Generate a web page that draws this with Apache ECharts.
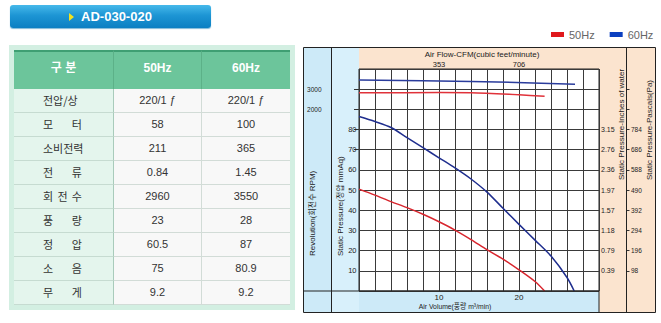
<!DOCTYPE html>
<html><head><meta charset="utf-8">
<script src="https://cdn.jsdelivr.net/npm/echarts@6/dist/echarts.min.js"></script>
<style>
html,body{margin:0;padding:0;background:#fff;width:661px;height:323px;overflow:hidden;font-family:"Liberation Sans",Arial,sans-serif;}
#btn{position:absolute;left:10px;top:5px;width:201px;height:23px;border-radius:3px;background:linear-gradient(#46b9ea,#1d95d4 45%,#0b7fc2);color:#fff;font:bold 13px "Liberation Sans",Arial,sans-serif;line-height:23px;text-align:center;box-shadow:0 1px 1px #7fb9d8;}
#btn .tri{display:inline-block;width:0;height:0;border-left:5px solid #f3e21f;border-top:4px solid transparent;border-bottom:4px solid transparent;margin-right:7px;vertical-align:0px;}
#box{position:absolute;left:9px;top:45px;width:286px;height:265px;background:#d3efe2;}
.c{position:absolute;box-sizing:border-box;text-align:center;white-space:nowrap;}
.h{background:#6cc59b;border-top:2px solid #3f9f73;color:#fff;font:bold 12px "Liberation Sans",Arial,"Noto Sans CJK KR",sans-serif;line-height:33px;}
.hs{border-right:1px solid #5cb188;}
.l{background:#e4f5ed;border-bottom:1px solid #c6dbd1;border-right:1px solid #a9cbbb;color:#333;font:11px "Noto Sans CJK KR",sans-serif;line-height:23px;text-align:left;padding-left:29px;}
.l span{display:inline-block;min-width:39px;text-align:justify;text-align-last:justify;}
.d{background:#f8f8f8;border-bottom:1px solid #d2dcd7;color:#333;font:11px "Liberation Sans",Arial,sans-serif;line-height:23px;}
.ds{border-right:1px solid #d2dcd7;}
#chart{position:absolute;left:296px;top:0;width:365px;height:323px;}
</style></head>
<body>
<div id="btn"><span class="tri"></span>AD-030-020</div>
<div id="box"></div>
<div id="tbl"></div>
<div id="chart"></div>
<script>
// ---- table data ----
const tableHeader = ['구 분', '50Hz', '60Hz'];
const rowLabels = ['전압/상', '모 터', '소비전력', '전 류', '회 전 수', '풍 량', '정 압', '소 음', '무 게'];
const values50 = ['220/1 ƒ', '58', '211', '0.84', '2960', '23', '60.5', '75', '9.2'];
const values60 = ['220/1 ƒ', '100', '365', '1.45', '3550', '28', '87', '80.9', '9.2'];

// ---- chart data ----
const airVolume50 = [0, 2, 4, 6, 8, 10, 12, 14, 16, 18, 20, 22, 23.2];
const pressure50 = [50.5, 47.5, 44.3, 41.3, 38, 34.3, 30.2, 25.5, 20.5, 15.8, 10.5, 4.7, 0];
const airVolume60 = [0, 2, 4, 6, 8, 10, 12, 14, 16, 18, 20, 22, 24, 26, 26.9];
const pressure60 = [86.5, 84, 81, 76, 71, 66, 61, 55.5, 49, 41, 33, 25.2, 17.3, 6.7, 0];
const rpmVolume50 = [0, 10, 14, 20, 23.2];
const rpm50 = [2820, 2830, 2820, 2720, 2650];
const rpmVolume60 = [0, 14, 27];
const rpm60 = [3450, 3385, 3250];
const volumeTicks = [10, 20];
const cfmLabels = ['353', '706'];
const rpmLabelTicks = [2000, 3000];
const rpmTickMarks = [0, 1000, 2000, 3000];
const pressureTicks = [10, 20, 30, 40, 50, 60, 70, 80];
const paTickMarks = [10, 20, 30, 40, 50, 60, 70, 80, 90, 100];
const inchLabels = ['0.39', '0.79', '1.18', '1.57', '1.97', '2.36', '2.76', '3.15'];
const paLabels = ['98', '196', '294', '392', '490', '588', '686', '784'];

// ---- build table ----
const tbl = document.getElementById('tbl');
const colX = [14, 114, 202], colW = [100, 88, 88];
function cell(x, y, w, h, cls, html) {
  const d = document.createElement('div');
  d.className = 'c ' + cls;
  d.style.left = x + 'px'; d.style.top = y + 'px';
  d.style.width = w + 'px'; d.style.height = h + 'px';
  d.innerHTML = html;
  tbl.appendChild(d);
}
tableHeader.forEach((t, i) => cell(colX[i], 50, colW[i], 39, 'h' + (i < 2 ? ' hs' : ''), t));
rowLabels.forEach((t, r) => {
  const y = 89 + 24 * r;
  cell(colX[0], y, colW[0], 24, 'l', '<span>' + t + '</span>');
  cell(colX[1], y, colW[1], 24, 'd ds', values50[r]);
  cell(colX[2], y, colW[2], 24, 'd', values60[r]);
});

// ---- chart ----
const chart = echarts.init(document.getElementById('chart'), null, { renderer: 'svg' });
const zip = (a, b) => a.map((v, i) => [v, b[i]]);
const FONT = '"Liberation Sans", Arial, "Noto Sans CJK KR", sans-serif';
const BLUE_BG = '#cdeaf8', BLUE_BG2 = '#d8f0fb', PEACH = '#fbe4cf', LINE = '#222';
const rotTitle = (x, y, text) => ({
  type: 'text', x: x, y: y, rotation: Math.PI / 2, z: 20,
  style: { text: text, fill: '#222', font: '8px ' + FONT, align: 'left', verticalAlign: 'middle' }
});
const vline = (x, y1, y2) => ({ type: 'line', z: 15, shape: { x1: x, y1: y1, x2: x, y2: y2 }, style: { stroke: LINE, lineWidth: 1 } });
const hline = (y, x1, x2) => ({ type: 'line', z: 15, shape: { x1: x1, y1: y, x2: x2, y2: y }, style: { stroke: LINE, lineWidth: 1 } });

chart.setOption({
  animation: false,
  textStyle: { fontFamily: FONT },
  legend: {
    data: [{ name: '50Hz', itemStyle: { color: '#e0181c' } }, { name: '60Hz', itemStyle: { color: '#0c40c0' } }],
    icon: 'rect', itemWidth: 13, itemHeight: 5, itemGap: 15,
    left: 255, top: 29, padding: 0,
    textStyle: { fontSize: 11, color: '#666', fontFamily: FONT }
  },
  grid: { left: 63, top: 69, width: 240, height: 222, show: true, backgroundColor: 'transparent', borderColor: LINE, borderWidth: 1 },
  graphic: [
    { type: 'rect', z: -10, shape: { x: 7.5, y: 47.5, width: 28, height: 265 }, style: { fill: BLUE_BG } },
    { type: 'rect', z: -10, shape: { x: 35.5, y: 47.5, width: 27.5, height: 265 }, style: { fill: BLUE_BG2 } },
    { type: 'rect', z: -10, shape: { x: 63, y: 291, width: 240, height: 21.5 }, style: { fill: BLUE_BG } },
    { type: 'rect', z: -10, shape: { x: 63, y: 47.5, width: 296.5, height: 21.5 }, style: { fill: PEACH } },
    { type: 'rect', z: -10, shape: { x: 303, y: 69, width: 56.5, height: 243.5 }, style: { fill: PEACH } },
    { type: 'rect', z: -10, shape: { x: 63, y: 69, width: 240, height: 222 }, style: { fill: '#fff' } },
    vline(35.5, 47.5, 312.5),
    vline(330.5, 47.5, 312.5),
    vline(303, 291, 312.5),
    hline(291, 7.5, 303),
    { type: 'rect', z: 16, shape: { x: 7.5, y: 47.5, width: 352, height: 265 }, style: { fill: 'none', stroke: LINE, lineWidth: 1 } },
    { type: 'text', x: 186, y: 54, z: 20, style: { text: 'Air Flow-CFM(cubic feet/minute)', fill: '#222', font: '8px ' + FONT, align: 'center', verticalAlign: 'middle' } },
    { type: 'text', x: 159, y: 306.5, z: 20, scaleX: 0.85, style: { text: 'Air Volume(풍량 m³/min)', fill: '#222', font: '8px ' + FONT, align: 'center', verticalAlign: 'middle' } },
    rotTitle(16, 256, 'Revolution(회전수 RPM)'),
    rotTitle(44, 256, 'Static Pressure(정압 mmAq)'),
    rotTitle(325.5, 180, 'Static Pressure-Inches of water'),
    rotTitle(353, 180, 'Static Pressure-Pascals(Pa)')
  ],
  xAxis: [
    {
      type: 'value', position: 'bottom', min: 0, max: 30, interval: 2,
      axisLine: { show: false }, axisTick: { show: false },
      axisLabel: { customValues: volumeTicks, fontSize: 8, color: '#222', margin: 2 },
      splitLine: { show: true, lineStyle: { color: '#3a3a3a', width: 1 } }
    },
    {
      type: 'value', position: 'top', min: 0, max: 30, interval: 2,
      axisLine: { show: false }, axisTick: { show: false }, splitLine: { show: false },
      axisLabel: { customValues: volumeTicks, fontSize: 7.5, color: '#222', margin: 1,
        formatter: v => cfmLabels[volumeTicks.indexOf(v)] }
    }
  ],
  yAxis: [
    {
      type: 'value', position: 'left', min: 0, max: 110, interval: 10,
      axisLine: { show: false }, axisTick: { show: false },
      axisLabel: { customValues: pressureTicks, fontSize: 7.5, color: '#222', margin: 2.5 },
      splitLine: { show: true, lineStyle: { color: '#3a3a3a', width: 1 } }
    },
    {
      type: 'value', position: 'left', offset: 27.5, min: -7000, max: 4000, interval: 1000,
      axisLine: { show: false }, splitLine: { show: false },
      axisTick: { show: true, customValues: rpmTickMarks, length: 5, lineStyle: { color: '#333' } },
      axisLabel: { customValues: rpmLabelTicks, fontSize: 6.5, color: '#222', margin: 10, formatter: v => String(v) }
    },
    {
      type: 'value', position: 'right', offset: 0, min: 0, max: 110, interval: 10,
      axisLine: { show: false }, axisTick: { show: false }, splitLine: { show: false },
      axisLabel: { customValues: pressureTicks, fontSize: 7, color: '#222', margin: 2,
        formatter: v => inchLabels[pressureTicks.indexOf(v)] }
    },
    {
      type: 'value', position: 'right', offset: 27.5, min: 0, max: 110, interval: 10,
      axisLine: { show: false }, splitLine: { show: false },
      axisTick: { show: true, customValues: paTickMarks, length: 3, lineStyle: { color: '#333' } },
      axisLabel: { customValues: pressureTicks, fontSize: 6.5, color: '#222', margin: 4.5,
        formatter: v => paLabels[pressureTicks.indexOf(v)] }
    }
  ],
  series: [
    { name: '50Hz', type: 'line', xAxisIndex: 0, yAxisIndex: 0, data: zip(airVolume50, pressure50), symbol: 'none', smooth: 0.3, z: 10, lineStyle: { color: '#d8262e', width: 1.5 }, itemStyle: { color: '#d8262e' } },
    { name: '60Hz', type: 'line', xAxisIndex: 0, yAxisIndex: 0, data: zip(airVolume60, pressure60), symbol: 'none', smooth: 0.3, z: 10, lineStyle: { color: '#1f2e8e', width: 1.5 }, itemStyle: { color: '#1f2e8e' } },
    { name: '50Hz', type: 'line', xAxisIndex: 0, yAxisIndex: 1, data: zip(rpmVolume50, rpm50), symbol: 'none', smooth: 0.3, z: 10, lineStyle: { color: '#e0323a', width: 1.5 }, itemStyle: { color: '#e0323a' } },
    { name: '60Hz', type: 'line', xAxisIndex: 0, yAxisIndex: 1, data: zip(rpmVolume60, rpm60), symbol: 'none', smooth: 0.3, z: 10, lineStyle: { color: '#2a3c9c', width: 1.5 }, itemStyle: { color: '#2a3c9c' } }
  ]
});
</script>
</body></html>
